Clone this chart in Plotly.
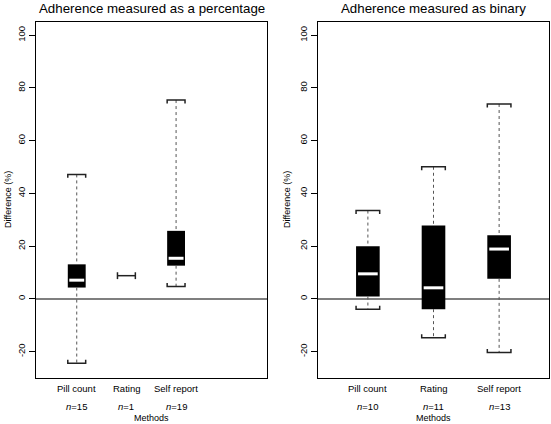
import plotly.graph_objects as go

# ---------------- data ----------------
methods = ["Pill count", "Rating", "Self report"]

pct_n = [15, 1, 19]
pct_low = [-24.4, 8.8, 4.7]
pct_q1 = [4.3, 8.8, 12.6]
pct_med = [7.1, 8.8, 15.4]
pct_q3 = [13.1, 8.8, 25.8]
pct_high = [47.2, 8.8, 75.4]

bin_n = [10, 11, 13]
bin_low = [-3.9, -14.7, -20.3]
bin_q1 = [0.9, -3.9, 7.6]
bin_med = [9.5, 4.2, 18.9]
bin_q3 = [20.0, 27.8, 24.1]
bin_high = [33.5, 50.1, 73.9]

titles = ["Adherence measured as a percentage", "Adherence measured as binary"]
y_ticks = [-20, 0, 20, 40, 60, 80, 100]

FONT = "Arial, Liberation Sans, sans-serif"
W, H = 551, 424
# plot region in page pixels
PL, PR, PT, PB = 36, 549, 22, 378
ML, MR, MT, MB = PL, W - PR, PT, H - PB
HALF = 0.18       # half box width (data units)
TICK = 1.3        # cap tick length (data units)

fig = go.Figure()


def px_x(p):
    return (p - PL) / (PR - PL)


def px_y(p):
    return 1 - (p - PT) / (PB - PT)


panels = [
    dict(xa="x", ya="y", dom=(px_x(36), px_x(267)), xr=[0.18, 4.83],
         n=pct_n, low=pct_low, q1=pct_q1, med=pct_med, q3=pct_q3, high=pct_high,
         ylab_x=8),
    dict(xa="x2", ya="y2", dom=(px_x(318), px_x(549)), xr=[0.24, 3.76],
         n=bin_n, low=bin_low, q1=bin_q1, med=bin_med, q3=bin_q3, high=bin_high,
         ylab_x=287),
]

ydom = (0, 1)
annotations = []
shapes = []
SMALL = 9.5

for pi, p in enumerate(panels):
    pos = [1, 2, 3]
    box_idx = [i for i in range(3) if p["n"][i] > 1]
    single_idx = [i for i in range(3) if p["n"][i] == 1]

    # boxes
    fig.add_trace(go.Bar(
        x=[pos[i] for i in box_idx],
        y=[p["q3"][i] - p["q1"][i] for i in box_idx],
        base=[p["q1"][i] for i in box_idx],
        width=2 * HALF, marker=dict(color="black", line=dict(width=0)),
        xaxis=p["xa"], yaxis=p["ya"], hoverinfo="skip"))

    # whiskers (dotted)
    wx, wy = [], []
    for i in box_idx:
        wx += [pos[i], pos[i], None, pos[i], pos[i], None]
        wy += [p["high"][i], p["q3"][i], None, p["q1"][i], p["low"][i], None]
    fig.add_trace(go.Scatter(x=wx, y=wy, mode="lines",
                             line=dict(color="#555555", width=1, dash="dot"),
                             xaxis=p["xa"], yaxis=p["ya"], hoverinfo="skip"))

    # caps (brackets)
    cx, cy = [], []
    for i in box_idx:
        x0, x1 = pos[i] - HALF, pos[i] + HALF
        hi, lo = p["high"][i], p["low"][i]
        cx += [x0, x0, x1, x1, None, x0, x0, x1, x1, None]
        cy += [hi - TICK, hi, hi, hi - TICK, None, lo + TICK, lo, lo, lo + TICK, None]
    for i in single_idx:
        x0, x1 = pos[i] - HALF, pos[i] + HALF
        v = p["med"][i]
        cx += [x0, x1, None, x0, x0, None, x1, x1, None]
        cy += [v, v, None, v - TICK, v + TICK, None, v - TICK, v + TICK, None]
    fig.add_trace(go.Scatter(x=cx, y=cy, mode="lines",
                             line=dict(color="#222222", width=1.5),
                             xaxis=p["xa"], yaxis=p["ya"], hoverinfo="skip"))

    # medians
    mx, my = [], []
    for i in box_idx:
        mx += [pos[i] - HALF + 0.03, pos[i] + HALF - 0.03, None]
        my += [p["med"][i], p["med"][i], None]
    fig.add_trace(go.Scatter(x=mx, y=my, mode="lines",
                             line=dict(color="white", width=3),
                             xaxis=p["xa"], yaxis=p["ya"], hoverinfo="skip"))

    # zero reference line
    shapes.append(dict(type="line", xref=f"{p['xa']} domain", yref=p["ya"],
                       x0=0, x1=1, y0=0, y1=0, layer="below",
                       line=dict(color="#555555", width=1.5)))

    # category labels and n
    for i in range(3):
        annotations.append(dict(x=pos[i], xref=p["xa"], y=px_y(388), yref="paper",
                                text=methods[i], showarrow=False,
                                font=dict(size=SMALL, color="black", family=FONT),
                                xanchor="center", yanchor="middle"))
        annotations.append(dict(x=pos[i], xref=p["xa"], y=px_y(406), yref="paper",
                                text=f"<i>n</i>={p['n'][i]}", showarrow=False,
                                font=dict(size=SMALL, color="black", family=FONT),
                                xanchor="center", yanchor="middle"))
    xmid = (p["dom"][0] + p["dom"][1]) / 2
    annotations.append(dict(x=xmid, xref="paper", y=px_y(418), yref="paper",
                            text="Methods", showarrow=False,
                            font=dict(size=9, color="black", family=FONT),
                            xanchor="center", yanchor="middle"))
    annotations.append(dict(x=xmid, xref="paper", y=px_y(8.5), yref="paper",
                            text=titles[pi], showarrow=False,
                            font=dict(size=13.3, color="black", family=FONT),
                            xanchor="center", yanchor="middle"))
    annotations.append(dict(x=px_x(p["ylab_x"]), xref="paper", y=px_y(200), yref="paper",
                            text="Difference (%)", showarrow=False, textangle=-90,
                            font=dict(size=9, color="black", family=FONT),
                            xanchor="center", yanchor="middle"))

axis_common = dict(showgrid=False, zeroline=False, showline=True, mirror=True,
                   linecolor="black", linewidth=1, automargin=False)

yaxis_common = dict(axis_common, range=[-30, 105], tickvals=y_ticks,
                    ticktext=[str(t) for t in y_ticks], ticks="outside",
                    ticklen=6, tickcolor="black", tickangle=-90,
                    tickfont=dict(size=9.5, color="black", family=FONT))

xaxis_common = dict(axis_common, showticklabels=False, ticks="")

fig.update_layout(
    width=W, height=H,
    margin=dict(l=ML, r=MR, t=MT, b=MB, autoexpand=False),
    paper_bgcolor="white", plot_bgcolor="white",
    showlegend=False, barmode="overlay", hovermode=False,
    xaxis=dict(xaxis_common, domain=list(panels[0]["dom"]), range=panels[0]["xr"]),
    xaxis2=dict(xaxis_common, domain=list(panels[1]["dom"]), range=panels[1]["xr"]),
    yaxis=dict(yaxis_common, domain=list(ydom), anchor="x"),
    yaxis2=dict(yaxis_common, domain=list(ydom), anchor="x2"),
    annotations=annotations, shapes=shapes,
)

# the page's default 8px body margin would push the 551x424 figure out of the window
fig.write_html("out.html", config={"displayModeBar": False},
               post_script="document.body.style.margin='0px';")
